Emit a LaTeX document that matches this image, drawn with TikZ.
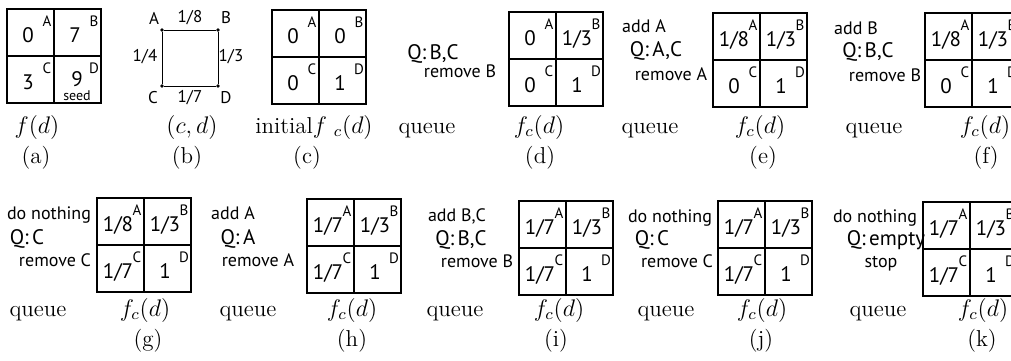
\documentclass[tikz,border=0pt]{standalone}
\usepackage{fontspec}
\newfontfamily\gridfont{PT Sans}
\tikzset{
  cellbox/.style={draw, line width=0.6pt, minimum width=47pt, minimum height=47pt, inner sep=0pt},
  cellline/.style={line width=0.6pt},
  val/.style={font=\gridfont\fontsize{10.5}{12}\selectfont, anchor=base, inner sep=0pt},
  corner/.style={font=\gridfont\fontsize{7.5}{9}\selectfont, anchor=base, inner sep=0pt},
  seedtext/.style={font=\gridfont\fontsize{7}{8}\selectfont, anchor=base, inner sep=0pt},
  qtext/.style={font=\gridfont\fontsize{9}{11}\selectfont, anchor=base, inner sep=0pt},
  qbig/.style={font=\gridfont\fontsize{10.5}{12}\selectfont, anchor=base, inner sep=0pt},
  gtext/.style={font=\gridfont\fontsize{8.5}{10}\selectfont, inner sep=0pt},
  captext/.style={font=\fontsize{11.5}{14}\selectfont, anchor=base, inner sep=0pt},
  vdot/.style={circle, fill, inner sep=0pt, minimum size=1.8pt},
  gedge/.style={line width=0.45pt},
}
\newcommand\qgrid[7]{%
  \begin{scope}[shift={(#2,#3)}]
    \node[cellbox] (#1) at (47,47) {};
    \draw[cellline] (#1.north) -- (#1.south);
    \draw[cellline] (#1.west) -- (#1.east);
    \node[val] (#1va) at (21,33) {#4};
    \node[val] (#1vb) at (68,33) {#5};
    \node[val] (#1vc) at (21,80) {#6};
    \node[val] (#1vd) at (68,80) {#7};
    \node[corner] (#1la) at (40,17) {A};
    \node[corner] (#1lb) at (87,17) {B};
    \node[corner] (#1lc) at (40,64) {C};
    \node[corner] (#1ld) at (87,64) {D};
  \end{scope}}
\begin{document}
\begin{tikzpicture}[x=0.5pt, y=-0.5pt]
  \useasboundingbox (0,0) rectangle (1011,360);
  \clip (0,0) rectangle (1011,360);

  % (a)
  \qgrid{ga}{7}{9}{0}{7}{3}{}
  \node[val] (nine) at (77,86) {9};
  \node[seedtext] (seed) at (77,100) {seed};
  \node[captext] (capa) at (37,133) {$f(d)$};
  \node[captext] (laba) at (36,163) {(a)};

  % (b)
  \node[vdot] (bA) at (162,30) {};
  \node[vdot] (bB) at (218,30) {};
  \node[vdot] (bC) at (162,86) {};
  \node[vdot] (bD) at (218,86) {};
  \draw[gedge] (bA) -- (bB);
  \draw[gedge] (bB) -- (bD);
  \draw[gedge] (bD) -- (bC);
  \draw[gedge] (bC) -- (bA);
  \node[gtext] (tA) at (154,18) {A};
  \node[gtext] (tB) at (226,18) {B};
  \node[gtext] (tC) at (153,98) {C};
  \node[gtext] (tD) at (226,98) {D};
  \node[gtext] (wab) at (190,18) {1/8};
  \node[gtext] (wac) at (145,57) {1/4};
  \node[gtext] (wbd) at (231,57) {1/3};
  \node[gtext] (wcd) at (190,98) {1/7};
  \node[captext] (capb) at (192,133) {$(c,d)$};
  \node[captext] (labb) at (187,163) {(b)};

  % (c)
  \qgrid{gc}{272}{10}{0}{0}{0}{1}
  \node[captext] (capc) at (314,133) {initial$f\;{}_c(d)$};
  \node[captext] (labc) at (307,163) {(c)};

  % queue c-d
  \node[qbig] (q1b) at (433,59) {Q:\,B,C};
  \node[qtext] (q1c) at (460,77) {remove B};
  \node[captext] (q1) at (427,133) {queue};

  % (d)
  \qgrid{gd}{509}{12}{0}{1/3}{0}{1}
  \node[captext] (capd) at (539,133) {$f_c(d)$};
  \node[captext] (labd) at (540,163) {(d)};

  % queue d-e
  \node[qtext] (q2a) at (644,32) {add A};
  \node[qbig] (q2b) at (656,56) {Q:\,A,C};
  \node[qtext] (q2c) at (671,80) {remove A};
  \node[captext] (q2) at (650,133) {queue};

  % (e)
  \qgrid{ge}{713}{13}{1/8}{1/3}{0}{1}
  \node[captext] (cape) at (760,133) {$f_c(d)$};
  \node[captext] (labe) at (763,163) {(e)};

  % queue e-f
  \node[qtext] (q3a) at (856,34) {add B};
  \node[qbig] (q3b) at (868,57) {Q:\,B,C};
  \node[qtext] (q3c) at (885,81) {remove B};
  \node[captext] (q3) at (874,133) {queue};

  % (f)
  \qgrid{gf}{925}{13}{1/8}{1/3}{0}{1}
  \node[captext] (capf) at (985,133) {$f_c(d)$};
  \node[captext] (labf) at (986,163) {(f)};

  % queue -> g
  \node[qtext] (q4a) at (49,219) {do nothing};
  \node[qbig] (q4b) at (27,244) {Q:\,C};
  \node[qtext] (q4c) at (55,266) {remove C};
  \node[captext] (q4) at (38,316) {queue};

  % (g)
  \qgrid{gg}{97}{198}{1/8}{1/3}{1/7}{1}
  \node[captext] (capg) at (145,316) {$f_c(d)$};
  \node[captext] (labg) at (148,346) {(g)};

  % queue -> h
  \node[qtext] (q5a) at (233,219) {add A};
  \node[qbig] (q5b) at (238,244) {Q:\,A};
  \node[qtext] (q5c) at (258,266) {remove A};
  \node[captext] (q5) at (248,316) {queue};

  % (h)
  \qgrid{gh}{307}{199}{1/7}{1/3}{1/7}{1}
  \node[captext] (caph) at (352,316) {$f_c(d)$};
  \node[captext] (labh) at (352,346) {(h)};

  % queue -> i
  \node[qtext] (q6a) at (457,221) {add B,C};
  \node[qbig] (q6b) at (461,245) {Q:\,B,C};
  \node[qtext] (q6c) at (477,267) {remove B};
  \node[captext] (q6) at (455,316) {queue};

  % (i)
  \qgrid{gi}{519}{201}{1/7}{1/3}{1/7}{1}
  \node[captext] (capi) at (559,316) {$f_c(d)$};
  \node[captext] (labi) at (556,346) {(i)};

  % queue -> j
  \node[qtext] (q7a) at (670,222) {do nothing};
  \node[qbig] (q7b) at (652,245) {Q:\,C};
  \node[qtext] (q7c) at (677,267) {remove C};
  \node[captext] (q7) at (666,316) {queue};

  % (j)
  \qgrid{gj}{718}{201}{1/7}{1/3}{1/7}{1}
  \node[captext] (capj) at (762,316) {$f_c(d)$};
  \node[captext] (labj) at (761,346) {(j)};

  % queue -> k
  \node[qtext] (q8a) at (875,222) {do nothing};
  \node[qbig] (q8b) at (886,245) {Q:\,empty};
  \node[qtext] (q8c) at (881,267) {stop};
  \node[captext] (q8) at (878,316) {queue};

  % (k)
  \qgrid{gk}{923}{202}{1/7}{1/3}{1/7}{1}
  \node[captext] (capk) at (983,316) {$f_c(d)$};
  \node[captext] (labk) at (982,346) {(k)};
\end{tikzpicture}
\end{document}
